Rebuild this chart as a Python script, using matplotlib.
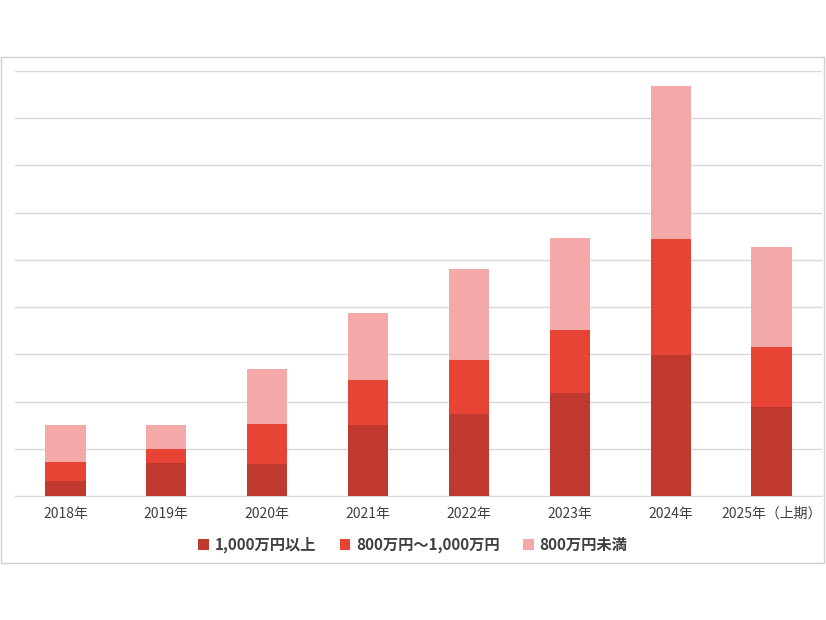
import matplotlib
matplotlib.use("Agg")
import matplotlib.pyplot as plt
from matplotlib.patches import Rectangle
import numpy as np

plt.rcParams['font.family'] = ['Noto Sans CJK JP', 'DejaVu Sans']

categories = ['2018年', '2019年', '2020年', '2021年', '2022年', '2023年', '2024年', '2025年（上期）']
over_1000 = [3.2, 7.0, 6.8, 15.1, 17.4, 21.9, 29.8, 18.9]
mid_800_1000 = [4.0, 3.0, 8.5, 9.4, 11.5, 13.2, 24.7, 12.6]
under_800 = [7.9, 5.1, 11.7, 14.2, 19.2, 19.6, 32.3, 21.3]
series_labels = ['1,000万円以上', '800万円～1,000万円', '800万円未満']
colors = ['#c0392f', '#e84436', '#f2a9a8']

fig = plt.figure(figsize=(8.26, 6.2), dpi=100)
fig.patches.append(Rectangle((0.001, 57/620*0+1-563/620), 0.997, (563-57)/620,
                             transform=fig.transFigure, fill=False, edgecolor='#d0d0d0', lw=1))
ax = fig.add_axes([15/826, (620-496)/620, 807/826, 425/620])
x = np.arange(len(categories))
b1 = np.array(over_1000); b2 = np.array(mid_800_1000); b3 = np.array(under_800)
ax.bar(x, b1, 0.4, color=colors[0], label=series_labels[0], zorder=3)
ax.bar(x, b2, 0.4, bottom=b1, color=colors[1], label=series_labels[1], zorder=3)
ax.bar(x, b3, 0.4, bottom=b1+b2, color=colors[2], label=series_labels[2], zorder=3)
ax.set_xlim(-0.5, len(categories)-0.5)
ax.set_ylim(0, 90)
ax.set_yticks(np.arange(0, 91, 10))
ax.yaxis.grid(True, color='#d9d9d9', lw=1, zorder=0)
ax.tick_params(axis='y', length=0, labelleft=False)
ax.tick_params(axis='x', length=0, labelsize=10, colors='#404040', pad=8)
ax.set_xticks(x)
ax.set_xticklabels(categories)
for s in ['left', 'right', 'top']:
    ax.spines[s].set_visible(False)
ax.spines['bottom'].set_color('#d9d9d9')
leg = fig.legend(loc='center', bbox_to_anchor=(0.5, 1-545/620), ncol=3, frameon=False,
                 handlelength=0.7, handleheight=0.7, columnspacing=1.5, handletextpad=0.4,
                 prop={'size': 11, 'weight': 'bold'})
for t in leg.get_texts():
    t.set_color('#404040')
fig.savefig('out.png', dpi=100)
